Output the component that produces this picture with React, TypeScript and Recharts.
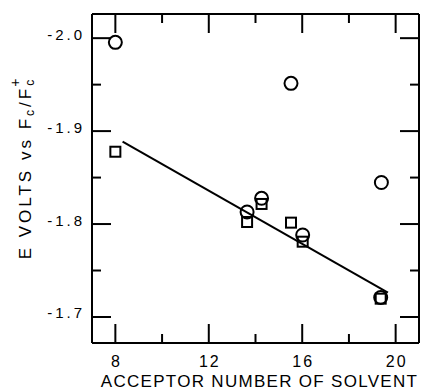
import { Label, Scatter, ScatterChart, XAxis, YAxis } from 'recharts';

// acceptor number vs E (V vs Fc/Fc+)
const circleX = [8.0, 15.52, 19.39, 13.64, 14.26, 16.02, 19.36];
const circleY = [-1.9955, -1.9514, -1.8447, -1.813, -1.8277, -1.7882, -1.721];
const squareX = [8.0, 13.64, 14.26, 15.52, 16.02, 19.36];
const squareY = [-1.8778, -1.8022, -1.8216, -1.8015, -1.781, -1.7197];
const fitX = [8.31, 19.67];
const fitY = [-1.8886, -1.7261];

const xTicks = [8, 10, 12, 14, 16, 18, 20];
const yTicks = [-2.0, -1.95, -1.9, -1.85, -1.8, -1.75, -1.7];
const xDomain = [7, 21];
const yDomain = [-2.026, -1.672];

const circles = circleX.map((x, i) => ({ x, y: circleY[i] }));
const squares = squareX.map((x, i) => ({ x, y: squareY[i] }));
const fit = fitX.map((x, i) => ({ x, y: fitY[i] }));

const W = 425;
const H = 392;
// axis box sizes; the plot box is what is left
const LEFT_W = 92;
const RIGHT_W = 6;
const TOP_H = 14;
const BOTTOM_H = 49;
const PLOT_W = W - LEFT_W - RIGHT_W;
const PLOT_H = H - TOP_H - BOTTOM_H;

const FONT = '"Liberation Sans", Arial, sans-serif';
const MAJOR = 19;
const MINOR = 9;

const isMajorX = (v: number) => v % 4 === 0;
const isMajorY = (v: number) => Math.round(v * 100) % 10 === 0;

// same linear mapping as the chart axes (y reversed: domain min at top)
const sx = (v: number) => LEFT_W + ((v - xDomain[0]) / (xDomain[1] - xDomain[0])) * PLOT_W;
const sy = (v: number) => TOP_H + ((v - yDomain[0]) / (yDomain[1] - yDomain[0])) * PLOT_H;

// inward ticks on all four sides of the frame
function FrameTicks() {
  const top = TOP_H;
  const bottom = TOP_H + PLOT_H;
  const left = LEFT_W;
  const right = LEFT_W + PLOT_W;
  return (
    <svg
      width={W}
      height={H}
      style={{ position: 'absolute', left: 0, top: 0, pointerEvents: 'none' }}
    >
      <g stroke="#000" strokeWidth={2} fill="none">
        {xTicks.map((v) => {
          const len = isMajorX(v) ? MAJOR : MINOR;
          const x = sx(v);
          return (
            <g key={`x${v}`}>
              <line x1={x} y1={bottom} x2={x} y2={bottom - len} />
              <line x1={x} y1={top} x2={x} y2={top + len} />
            </g>
          );
        })}
        {yTicks.map((v) => {
          const len = isMajorY(v) ? MAJOR : MINOR;
          const y = sy(v);
          return (
            <g key={`y${v}`}>
              <line x1={left} y1={y} x2={left + len} y2={y} />
              <line x1={right} y1={y} x2={right - len} y2={y} />
            </g>
          );
        })}
      </g>
    </svg>
  );
}

function BottomLabel(props: any) {
  const { x, y, payload } = props;
  if (!isMajorX(payload.value)) return <g />;
  return (
    <text x={x + 1} y={y + 24} textAnchor="middle" fontFamily={FONT} fontSize={16} letterSpacing={2} fill="#000">
      {payload.value}
    </text>
  );
}

function LeftLabel(props: any) {
  const { x, y, payload } = props;
  if (!isMajorY(payload.value)) return <g />;
  return (
    <text x={x - 7} y={y + 1.5} textAnchor="end" fontFamily={FONT} fontSize={15} letterSpacing={3} fill="#000">
      {payload.value.toFixed(1)}
    </text>
  );
}

function YTitle(props: any) {
  const { viewBox } = props;
  const cx = viewBox.x + 31;
  const cy = viewBox.y + viewBox.height / 2 - 11;
  return (
    <text
      x={cx}
      y={cy}
      transform={`rotate(-90 ${cx} ${cy})`}
      textAnchor="middle"
      fontFamily={FONT}
      fontSize={17}
      letterSpacing={3}
      fill="#000"
    >
      E  VOLTS  vs  F
      <tspan fontSize={12} dy={3}>c</tspan>
      <tspan dy={-3}>/F</tspan>
      <tspan fontSize={12} dy={3}>c</tspan>
      <tspan fontSize={14} dx={-10} dy={-14}>+</tspan>
    </text>
  );
}

function XTitle(props: any) {
  const { viewBox } = props;
  return (
    <text
      x={viewBox.x + viewBox.width / 2 + 4}
      y={viewBox.y + 44}
      textAnchor="middle"
      fontFamily={FONT}
      fontSize={17}
      letterSpacing={1.3}
      fill="#000"
    >
      ACCEPTOR NUMBER OF SOLVENT
    </text>
  );
}

const OpenCircle = (p: any) => <circle cx={p.cx} cy={p.cy} r={6.5} fill="none" stroke="#000" strokeWidth={2} />;

const OpenSquare = (p: any) => (
  <rect x={p.cx - 5} y={p.cy - 5} width={10} height={10} fill="none" stroke="#000" strokeWidth={2} />
);

const NoDot = () => <g />;

const axisLine = { stroke: '#000', strokeWidth: 2 };

export default function App() {
  return (
    <div style={{ position: 'absolute', left: 0, top: 0, width: W, height: H, background: '#fff' }}>
      <ScatterChart width={W} height={H} margin={{ top: 0, right: 0, bottom: 0, left: 0 }}>
        <XAxis
          xAxisId="b"
          type="number"
          dataKey="x"
          domain={xDomain}
          ticks={xTicks}
          interval={0}
          height={BOTTOM_H}
          tickSize={0}
          tickMargin={0}
          axisLine={axisLine}
          tick={<BottomLabel />}
        >
          <Label content={<XTitle />} />
        </XAxis>
        <XAxis
          xAxisId="t"
          orientation="top"
          type="number"
          dataKey="x"
          domain={xDomain}
          height={TOP_H}
          tickSize={0}
          axisLine={axisLine}
          tick={false}
        />
        <YAxis
          yAxisId="l"
          type="number"
          dataKey="y"
          reversed
          domain={yDomain}
          ticks={yTicks}
          interval={0}
          width={LEFT_W}
          tickSize={0}
          tickMargin={0}
          axisLine={axisLine}
          tick={<LeftLabel />}
        >
          <Label content={<YTitle />} />
        </YAxis>
        <YAxis
          yAxisId="r"
          orientation="right"
          type="number"
          dataKey="y"
          reversed
          domain={yDomain}
          width={RIGHT_W}
          tickSize={0}
          axisLine={axisLine}
          tick={false}
        />
        <Scatter
          xAxisId="b"
          yAxisId="l"
          data={fit}
          line={{ stroke: '#000', strokeWidth: 2 }}
          shape={<NoDot />}
          isAnimationActive={false}
        />
        <Scatter xAxisId="b" yAxisId="l" data={squares} shape={<OpenSquare />} isAnimationActive={false} />
        <Scatter xAxisId="b" yAxisId="l" data={circles} shape={<OpenCircle />} isAnimationActive={false} />
      </ScatterChart>
      <FrameTicks />
    </div>
  );
}
